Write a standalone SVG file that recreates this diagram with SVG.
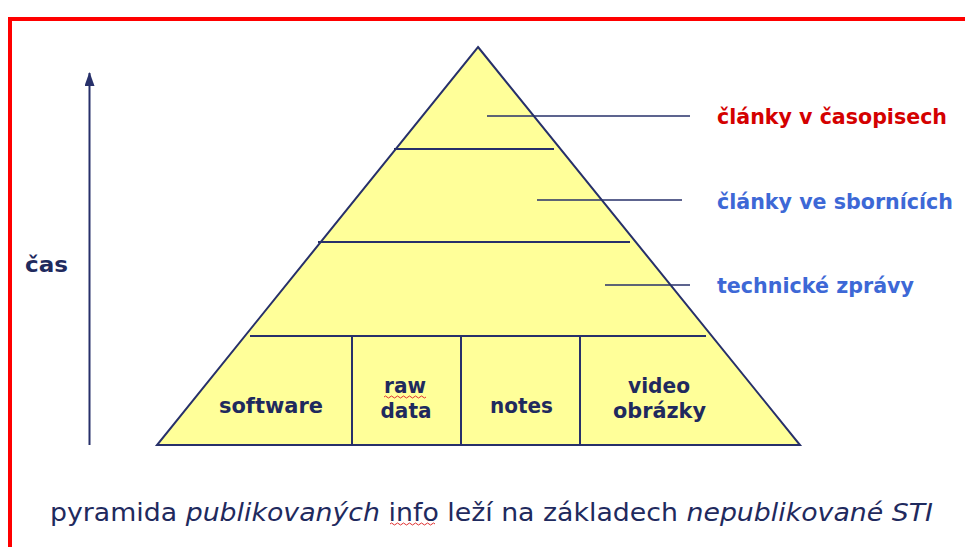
<svg xmlns="http://www.w3.org/2000/svg" width="965" height="547" viewBox="0 0 965 547">
<style>
.ln{stroke:#27306a;stroke-width:2;fill:none}
.lbl{font-family:"DejaVu Sans","Verdana",sans-serif;font-weight:bold;font-size:21.5px;fill:#1f2a5e;text-anchor:middle}
.side{font-family:"DejaVu Sans","Verdana",sans-serif;font-weight:bold;font-size:20.5px}
.red{fill:#d40000}
.blue{fill:#3d68d6}
.cap{font-family:"DejaVu Sans","Verdana",sans-serif;font-size:25px;fill:#1f2a5e}
.sq{stroke:#e03030;stroke-width:1;fill:none}
</style>
<defs>
<marker id="ah" markerWidth="14" markerHeight="10" refX="13" refY="5" orient="auto" markerUnits="userSpaceOnUse">
<path d="M0,0 L14,5 L0,10 Z" fill="#27306a"/>
</marker>
</defs>
<rect x="0" y="0" width="965" height="547" fill="#ffffff"/>
<path d="M10,547 L10,19 L965,19" stroke="#ff0000" stroke-width="4" fill="none"/>

<g id="time-axis">
<line x1="89.5" y1="445" x2="89.5" y2="73" stroke="#27306a" stroke-width="2" marker-end="url(#ah)"/>
<text x="25" y="272" class="side" fill="#1f2a5e" font-size="22" textLength="43" lengthAdjust="spacingAndGlyphs">čas</text>
</g>

<g id="pyramid">
<polygon points="478,47 800,445 157,445" class="ln" style="fill:#ffff99"/>
<line class="ln" x1="394" y1="149" x2="554" y2="149"/>
<line class="ln" x1="318" y1="242" x2="630" y2="242"/>
<line class="ln" x1="250" y1="336" x2="706" y2="336"/>
</g>

<g id="base-cells">
<line class="ln" x1="352" y1="336" x2="352" y2="445"/>
<line class="ln" x1="461" y1="336" x2="461" y2="445"/>
<line class="ln" x1="580" y1="336" x2="580" y2="445"/>
</g>

<g id="software"><text class="lbl" x="271" y="412.5" textLength="104" lengthAdjust="spacingAndGlyphs">software</text></g>
<g id="raw-data">
<text class="lbl" x="405" y="393" textLength="42" lengthAdjust="spacingAndGlyphs">raw</text>
<text class="lbl" x="406" y="417.5" textLength="51" lengthAdjust="spacingAndGlyphs">data</text>
<path class="sq" d="M384,397 q1.5,-2 3,0 t3,0 t3,0 t3,0 t3,0 t3,0 t3,0 t3,0 t3,0 t3,0 t3,0 t3,0 t3,0 t3,0"/>
</g>
<g id="notes"><text class="lbl" x="521.5" y="412.5" textLength="63" lengthAdjust="spacingAndGlyphs">notes</text></g>
<g id="video"><text class="lbl" x="659" y="393" textLength="62" lengthAdjust="spacingAndGlyphs">video</text>
<text class="lbl" x="659.5" y="418" textLength="93" lengthAdjust="spacingAndGlyphs">obrázky</text></g>

<g id="connectors">
<line x1="487" y1="116" x2="690" y2="116" stroke="#27306a" stroke-width="1.5"/>
<line x1="537" y1="200" x2="682" y2="200" stroke="#27306a" stroke-width="1.5"/>
<line x1="605" y1="285" x2="690" y2="285" stroke="#27306a" stroke-width="1.5"/>
</g>

<g id="clanky-casopisy"><text class="side red" x="717" y="123.5" textLength="230" lengthAdjust="spacingAndGlyphs">články v časopisech</text></g>
<g id="clanky-sborniky"><text class="side blue" x="717" y="208.5" textLength="236" lengthAdjust="spacingAndGlyphs">články ve sbornících</text></g>
<g id="technicke-zpravy"><text class="side blue" x="717" y="293" textLength="197" lengthAdjust="spacingAndGlyphs">technické zprávy</text></g>

<g id="caption">
<text class="cap" x="50" y="520.5" textLength="883" lengthAdjust="spacingAndGlyphs">pyramida <tspan font-style="italic">publikovaných</tspan> info leží na základech <tspan font-style="italic">nepublikované STI</tspan></text>
<path class="sq" d="M390,524 q1.5,-2 3,0 t3,0 t3,0 t3,0 t3,0 t3,0 t3,0 t3,0 t3,0 t3,0 t3,0 t3,0 t3,0 t3,0 t3,0"/>
</g>
</svg>
